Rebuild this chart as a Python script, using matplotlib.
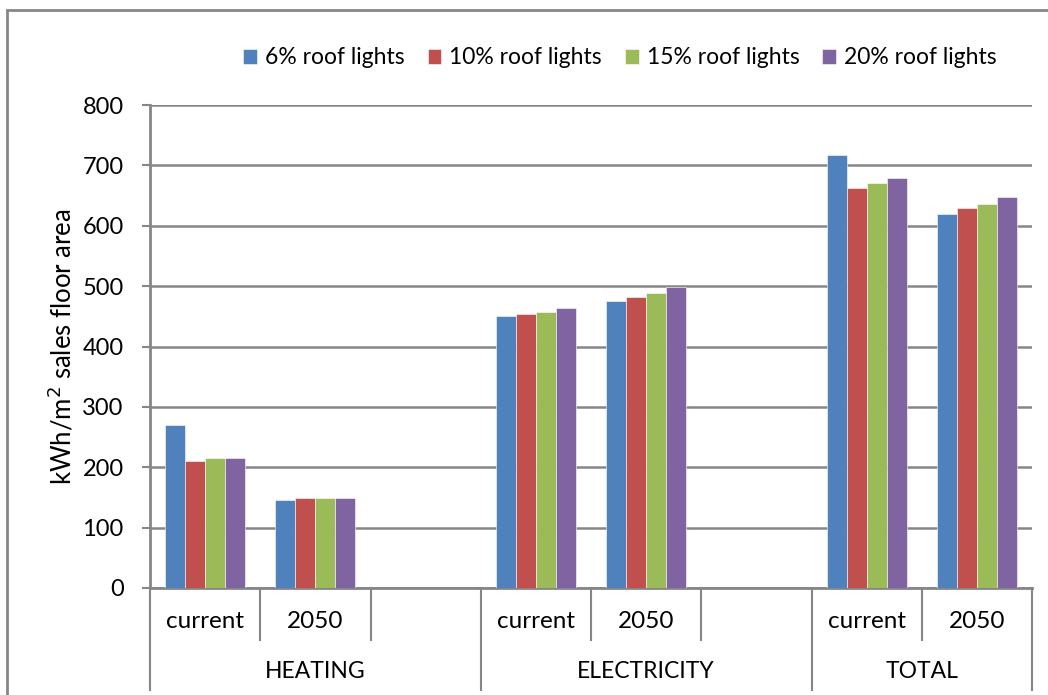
import matplotlib
matplotlib.use("Agg")
import matplotlib.pyplot as plt
import matplotlib.transforms as mtransforms
from matplotlib.patches import Rectangle
import numpy as np

plt.rcParams['font.family'] = ['Lato', 'DejaVu Sans']

# Data
slot_labels = ["current", "2050", "", "current", "2050", "", "current", "2050"]
groups = ["HEATING", "ELECTRICITY", "TOTAL"]
series_names = ["6% roof lights", "10% roof lights", "15% roof lights", "20% roof lights"]
roof6 = [270, 146, 450, 476, 718, 620]
roof10 = [211, 149, 454, 482, 663, 630]
roof15 = [215, 149, 457, 488, 670, 636]
roof20 = [216, 149, 464, 499, 679, 647]
yticks = [0, 100, 200, 300, 400, 500, 600, 700, 800]

colors = ["#4F81BD", "#C0504D", "#9BBB59", "#8064A2"]
gray = "#868686"

W, H = 1048, 695
AX_L, AX_R, AX_T, AX_B = 150, 1032, 105, 588
fig = plt.figure(figsize=(W / 100, H / 100), dpi=100)
ax = fig.add_axes([AX_L / W, 1 - AX_B / H, (AX_R - AX_L) / W, (AX_B - AX_T) / H])

# positions of occupied slots
filled = [i for i, s in enumerate(slot_labels) if s]
x = np.array(filled, dtype=float)
bw = 20 / 110.25
all_series = [roof6, roof10, roof15, roof20]
for k, (vals, c, name) in enumerate(zip(all_series, colors, series_names)):
    ax.bar(x + (k - 1.5) * bw, vals, width=bw, color=c, edgecolor="white",
           linewidth=0.4, label=name, zorder=3)

ax.set_xlim(-0.5, len(slot_labels) - 0.5)
ax.set_ylim(0, 800)
ax.set_yticks(yticks)
ax.set_yticklabels([str(t) for t in yticks], fontsize=17)
ax.yaxis.grid(True, color=gray, linewidth=1.8, zorder=0)
ax.set_axisbelow(True)
ax.tick_params(axis="y", direction="out", length=6, width=1.5, color=gray, pad=13)
ax.set_xticks([])
for s in ["top", "right"]:
    ax.spines[s].set_visible(False)
for s in ["left", "bottom"]:
    ax.spines[s].set_color(gray)
    ax.spines[s].set_linewidth(2)

ax.set_ylabel("kWh/m$^2$ sales floor area", fontsize=18.5, va="center")
ax.yaxis.set_label_coords((62 - AX_L) / (AX_R - AX_L), 0.5)

# Multi-level category axis
trans = mtransforms.blended_transform_factory(ax.transData, fig.transFigure)
y_axis = 1 - AX_B / H
y_short = 1 - 640 / H
y_long = 1 - 690 / H
for i, lab in enumerate(slot_labels):
    if lab:
        fig.text(i, 1 - 622 / H, lab, transform=trans, ha="center", va="center", fontsize=17.5)
group_bounds = [(0, 3), (3, 6), (6, 8)]
for (a, b), g in zip(group_bounds, groups):
    fig.text((a + b) / 2 - 0.5, 1 - 672 / H, g, transform=trans, ha="center", va="center", fontsize=16.5)
# separators
long_b = [-0.5, 2.5, 5.5, 7.5]
for i in range(len(slot_labels) + 1):
    xb = i - 0.5
    y_end = y_long if xb in long_b else y_short
    fig.add_artist(plt.Line2D([xb, xb], [y_axis, y_end], transform=trans,
                              color=gray, linewidth=1.5))

# Legend
fig.legend(loc="center", bbox_to_anchor=(620 / W, 1 - 58 / H), ncol=4, frameon=False,
           fontsize=16.5, handlelength=0.6, handleheight=0.6, handletextpad=0.35,
           columnspacing=1.0)

# Chart border
fig.add_artist(Rectangle((7 / W, -0.1), 1.2, 1 - 10 / H + 0.1, transform=fig.transFigure,
                         fill=False, edgecolor=gray, linewidth=2))

fig.savefig("out.png", dpi=100)
